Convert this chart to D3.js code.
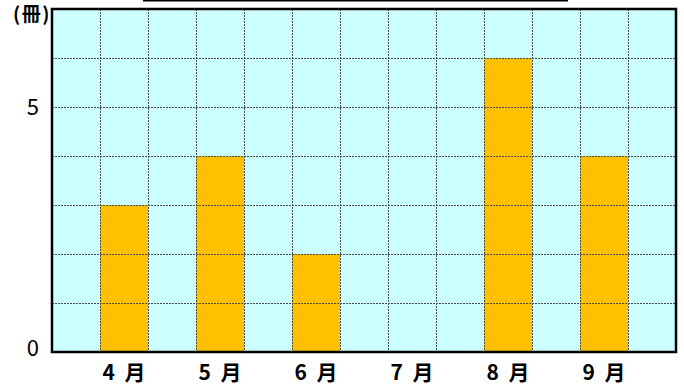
<!DOCTYPE html>
<html>
<head>
<meta charset="utf-8">
<script src="https://cdn.jsdelivr.net/npm/d3@7"></script>
<style>
  html, body { margin: 0; padding: 0; background: #fff; }
  svg { display: block; }
</style>
</head>
<body>
<svg id="chart" width="684" height="385"></svg>
<script>
// Monthly counts of books (冊)
const months = ["4月", "5月", "6月", "7月", "8月", "9月"];
const monthLabels = ["4 月", "5 月", "6 月", "7 月", "8 月", "9 月"];
const books = [3, 4, 2, 0, 6, 4];
const yTickValues = [0, 5];
const unitLabel = "(冊)";

const plot = { left: 52, right: 676, top: 9, bottom: 352 };

const svg = d3.select("#chart");

const x = d3.scaleBand()
  .domain(months)
  .range([plot.left, plot.right])
  .paddingInner(0.5)
  .paddingOuter(0.5);

const y = d3.scaleLinear()
  .domain([0, 7])
  .range([plot.bottom, plot.top]);

// Title underline at the top edge
svg.append("line")
  .attr("x1", 143).attr("x2", 568)
  .attr("y1", 0.5).attr("y2", 0.5)
  .attr("stroke", "#000").attr("stroke-width", 2);

// Plot background
svg.append("rect")
  .attr("x", plot.left).attr("y", plot.top)
  .attr("width", plot.right - plot.left)
  .attr("height", plot.bottom - plot.top)
  .attr("fill", "#CCFFFF");

// Bars
svg.append("g").selectAll("rect")
  .data(months.map((m, i) => ({ m, v: books[i] })))
  .join("rect")
  .attr("x", d => x(d.m))
  .attr("y", d => y(d.v))
  .attr("width", x.bandwidth())
  .attr("height", d => y(0) - y(d.v))
  .attr("fill", "#FFC000");

// Dotted grid drawn over the bars
const grid = svg.append("g")
  .attr("stroke", "#4a4a4a")
  .attr("stroke-width", 1)
  .attr("stroke-dasharray", "2,1");

const yGrid = d3.range(1, 7);
grid.selectAll("line.h")
  .data(yGrid)
  .join("line")
  .attr("class", "h")
  .attr("x1", plot.left).attr("x2", plot.right)
  .attr("y1", d => Math.round(y(d)) + 0.5)
  .attr("y2", d => Math.round(y(d)) + 0.5);

// vertical lines at both edges of every band, every half step
const half = x.step() / 2;
const vGrid = d3.range(1, Math.round((plot.right - plot.left) / half))
  .map(k => plot.left + k * half);
grid.selectAll("line.v")
  .data(vGrid)
  .join("line")
  .attr("class", "v")
  .attr("x1", d => Math.round(d) + 0.5)
  .attr("x2", d => Math.round(d) + 0.5)
  .attr("y1", plot.top).attr("y2", plot.bottom);

// Plot frame
svg.append("rect")
  .attr("x", plot.left).attr("y", plot.top)
  .attr("width", plot.right - plot.left)
  .attr("height", plot.bottom - plot.top)
  .attr("fill", "none")
  .attr("stroke", "#000")
  .attr("stroke-width", 2.5);

const font = "'Noto Sans CJK JP', 'Noto Sans', sans-serif";

// Y axis labels
const yAxis = svg.append("g")
  .attr("transform", `translate(${plot.left},0)`)
  .call(d3.axisLeft(y).tickValues(yTickValues).tickSize(0).tickPadding(13).tickFormat(d3.format("d")));
yAxis.select(".domain").remove();
yAxis.selectAll("text")
  .attr("font-family", font)
  .attr("font-size", 22)
  .attr("fill", "#000")
  .attr("dy", d => d === 0 ? "0.14em" : "0.36em");

// X axis labels
const xAxis = svg.append("g")
  .attr("transform", `translate(0,${plot.bottom})`)
  .call(d3.axisBottom(x).tickSize(0).tickPadding(13).tickFormat((d, i) => monthLabels[i]));
xAxis.select(".domain").remove();
xAxis.selectAll("text")
  .attr("font-family", font)
  .attr("font-size", 21)
  .attr("font-weight", "bold")
  .attr("word-spacing", "5px")
  .attr("fill", "#000");

// Unit label
svg.append("text")
  .attr("x", 32).attr("y", 21)
  .attr("text-anchor", "middle")
  .attr("font-family", font)
  .attr("font-size", 19)
  .attr("font-weight", "bold")
  .attr("letter-spacing", "1.5px")
  .text(unitLabel);
</script>
</body>
</html>
